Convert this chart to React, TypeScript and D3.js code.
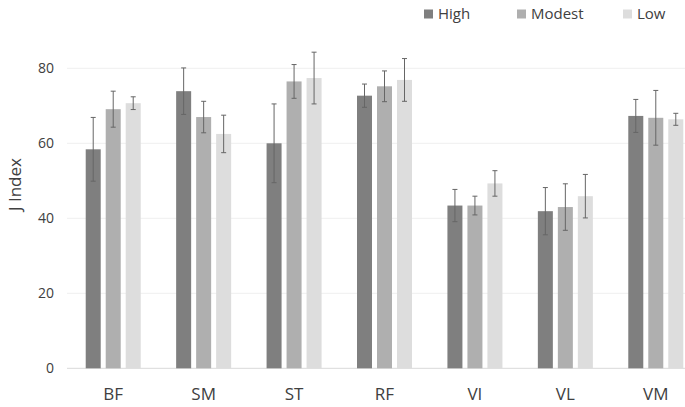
import React from "react";
import * as d3 from "d3";

const categories = ["BF", "SM", "ST", "RF", "VI", "VL", "VM"];
const seriesNames = ["High", "Modest", "Low"];
const highValues = [58.4, 73.9, 60.0, 72.7, 43.4, 41.9, 67.3];
const modestValues = [69.1, 67.0, 76.5, 75.2, 43.4, 43.0, 66.8];
const lowValues = [70.7, 62.5, 77.4, 76.9, 49.3, 45.9, 66.4];
const highErrors = [8.5, 6.2, 10.5, 3.1, 4.3, 6.3, 4.4];
const modestErrors = [4.8, 4.2, 4.5, 4.1, 2.5, 6.2, 7.3];
const lowErrors = [1.7, 5.0, 6.9, 5.7, 3.4, 5.8, 1.6];
const yTicks = [0, 20, 40, 60, 80];
const colors = ["#7f7f7f", "#afafaf", "#dddddd"];

const W = 685;
const H = 407;
const FONT = "'Open Sans', 'Noto Sans', sans-serif";

export default function App() {
  const values = [highValues, modestValues, lowValues];
  const errors = [highErrors, modestErrors, lowErrors];
  const x = d3.scaleBand<string>().domain(categories).range([68, 701]).paddingInner(0).paddingOuter(0);
  const y = d3.scaleLinear().domain([0, 80]).range([368.3, 68.3]);
  const barW = 15;
  const step = 20;

  return (
    <svg width={W} height={H} style={{ position: "absolute", left: 0, top: 0, background: "#fff" }} fontFamily={FONT}>
      {yTicks.map((t) => (
        <g key={t}>
          <line x1={67} x2={W} y1={y(t)} y2={y(t)} stroke={t === 0 ? "#d9d9d9" : "#efefef"} strokeWidth={1} />
          <text x={54} y={y(t)} dy="0.35em" textAnchor="end" fontSize={14} fill="#404040">
            {t}
          </text>
        </g>
      ))}
      <text transform={`translate(21,${y(49)}) rotate(-90)`} textAnchor="middle" fontSize={17} fill="#404040">
        J Index
      </text>
      {categories.map((c, i) => {
        const cx = x(c)! + x.bandwidth() / 2;
        return (
          <g key={c}>
            {values.map((vals, s) => {
              const bx = cx + (s - 1) * step - barW / 2;
              const v = vals[i];
              const e = errors[s][i];
              const mx = bx + barW / 2;
              return (
                <g key={s}>
                  <rect x={bx} y={y(v)} width={barW} height={y(0) - y(v)} fill={colors[s]} />
                  <line x1={mx} x2={mx} y1={y(v + e)} y2={y(v - e)} stroke="#666" strokeWidth={1} />
                  <line x1={mx - 2.5} x2={mx + 2.5} y1={y(v + e)} y2={y(v + e)} stroke="#666" strokeWidth={1} />
                  <line x1={mx - 2.5} x2={mx + 2.5} y1={y(v - e)} y2={y(v - e)} stroke="#666" strokeWidth={1} />
                </g>
              );
            })}
            <text x={cx} y={394} dy="0.35em" textAnchor="middle" fontSize={17} fill="#404040">
              {c}
            </text>
          </g>
        );
      })}
      {seriesNames.map((n, s) => {
        const lx = [424, 517, 623][s];
        return (
          <g key={n}>
            <rect x={lx} y={9.5} width={9} height={9} fill={colors[s]} />
            <text x={lx + 14} y={14} dy="0.35em" fontSize={15} fill="#404040">
              {n}
            </text>
          </g>
        );
      })}
    </svg>
  );
}
